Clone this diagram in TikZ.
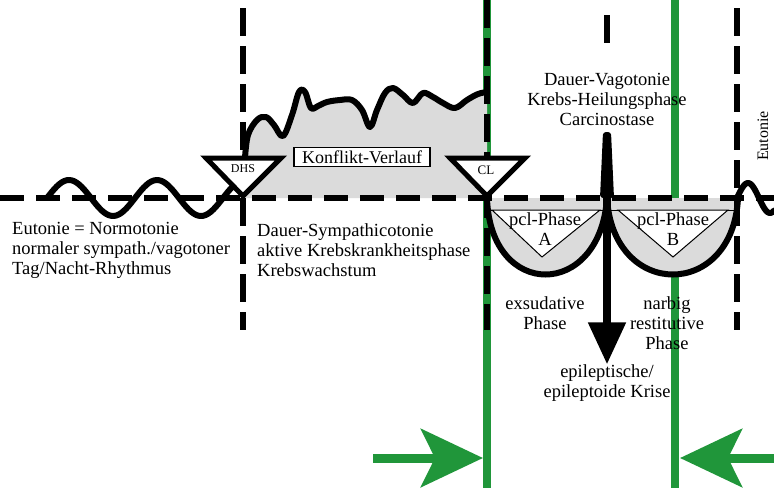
\documentclass[tikz,border=0pt]{standalone}
\usepackage{fontspec}
\setmainfont{Liberation Serif}
\usetikzlibrary{arrows.meta,positioning}
\definecolor{grn}{RGB}{32,150,58}
\definecolor{fillgray}{gray}{0.86}
\tikzset{
base/.style={line width=6pt, dash pattern=on 24pt off 12pt},
vdash/.style={line width=6pt, dash pattern=on 28pt off 10pt},
curve/.style={line width=6pt, line join=round, line cap=round},
tri/.style={line width=5pt, line join=miter, fill=white},
txt/.style={font=\fontsize{18.5}{20}\selectfont, align=left, inner sep=0pt},
ctxt/.style={txt, align=center},
small/.style={font=\fontsize{12}{12}\selectfont, inner sep=0pt},
greenline/.style={draw=grn, line width=8pt},
greenarrow/.style={draw=grn, line width=9pt, -{Stealth[length=62pt,width=58pt,inset=14pt]}},
}

\begin{document}
\begin{tikzpicture}[x=1pt,y=-1pt]
    \useasboundingbox (0,0) rectangle (774,488);
    % green lines behind
    \draw[greenline] (487,0) -- (487,488);
    \draw[greenline] (675,0) -- (675,488);

    % areas
    \fill[fillgray] (243,198) -- (245,158) -- plot[smooth, tension=0.6] coordinates {(245,158) (248,135) (257,120) (266,117) (274,125) (283,136) (292,115) (299,92) (305,92) (311,108) (318,106) (327,102) (340,100) (352,100) (362,110) (370,127) (377,110) (385,93) (393,88) (403,95) (413,103) (423,93) (433,97) (443,103) (455,108) (467,100) (478,94) (487,92)} -- (487,198) -- cycle;
    \fill[fillgray] (487,198) .. controls (490,300) and (600,300) .. (606,198) -- cycle;
    \fill[fillgray] (607,198) .. controls (613,300) and (733,300) .. (738,198) -- cycle;

    % dashed lines
    \draw[base] (0,198) -- (774,198);
    \draw[vdash] (243,8) -- (243,330);
    \draw[vdash] (487,0) -- (487,330);
    \draw[vdash] (607,15) -- (607,52);
    \draw[vdash] (737,8) -- (737,330);

    % pcl triangles
    \draw[line width=1pt] (487,210) -- (606,210);
    \draw[line width=1pt] (607,210) -- (737,210);
    \draw[line width=1pt, fill=white] (492,210) -- (600,210) -- (542,257) -- cycle;
    \draw[line width=1pt, fill=white] (618,210) -- (728,210) -- (673,257) -- cycle;

    % curves
    \draw[curve] plot[domain=47:243, samples=80, smooth] (\x, {198-18*sin(4.0909*(\x-47))});
    \draw[curve] plot[smooth, tension=0.6] coordinates {(245,158) (248,135) (257,120) (266,117) (274,125) (283,136) (292,115) (299,92) (305,92) (311,108) (318,106) (327,102) (340,100) (352,100) (362,110) (370,127) (377,110) (385,93) (393,88) (403,95) (413,103) (423,93) (433,97) (443,103) (455,108) (467,100) (478,94) (487,92)};
    \draw[curve] (487,198) .. controls (490,300) and (600,300) .. (607,198) .. controls (613,300) and (733,300) .. (738,198);
    \draw[curve] plot[domain=737:774, samples=40, smooth] (\x, {198-15*sin(8.1818*(\x-737))});

    % DHS and CL
    \draw[tri] (206,158) -- (281,158) -- (243,196) -- cycle;
    \draw[tri] (450,158) -- (525,158) -- (487,196) -- cycle;
    \node[small] (dhs) at (243,169) {DHS};
    \node[small, font=\fontsize{13}{13}\selectfont] (cl) at (486,170) {CL};
    \node[draw, line width=1.5pt, fill=white, font=\fontsize{18}{20}\selectfont, inner xsep=8pt, inner ysep=3pt] (kv) at (362,157) {Konflikt-Verlauf};

    % texts
    \node[txt, anchor=west] (eut) at (12,250) {Eutonie = Normotonie\\normaler sympath./vagotoner\\Tag/Nacht-Rhythmus};
    \node[txt, anchor=west] (sym) at (257,250) {Dauer-Sympathicotonie\\aktive Krebskrankheitsphase\\Krebswachstum};
    \node[ctxt] (vag) at (607,99) {Dauer-Vagotonie\\Krebs-Heilungsphase\\Carcinostase};
    \node[small, font=\fontsize{16}{16}\selectfont, rotate=90] (eut2) at (763,136) {Eutonie};
    \node[ctxt] (pa) at (545,229) {pcl-Phase\\A};
    \node[ctxt] (pb) at (673,229) {pcl-Phase\\B};
    \node[ctxt] (exs) at (545,313) {exsudative\\Phase};
    \node[ctxt] (nar) at (667,323) {narbig\\restitutive\\Phase};
    \node[ctxt] (kri) at (607,383) {epileptische/\\epileptoide Krise};

    % spike and arrow
    \fill[rounded corners=3pt] (603,132) -- (611,132) -- (614,198) -- (600,198) -- cycle;
    \coordinate (spitze) at (607,196);
    \draw[line width=8pt, -{Triangle[length=42pt,width=36pt]}] (spitze) -- (kri.north);

    % green arrows
    \coordinate (la) at (373,458);
    \coordinate (lb) at (483,458);
    \coordinate (ra) at (774,458);
    \coordinate (rb) at (680,458);
    \draw[greenarrow] (la) -- (lb);
    \draw[greenarrow] (ra) -- (rb);
\end{tikzpicture}
\end{document}
